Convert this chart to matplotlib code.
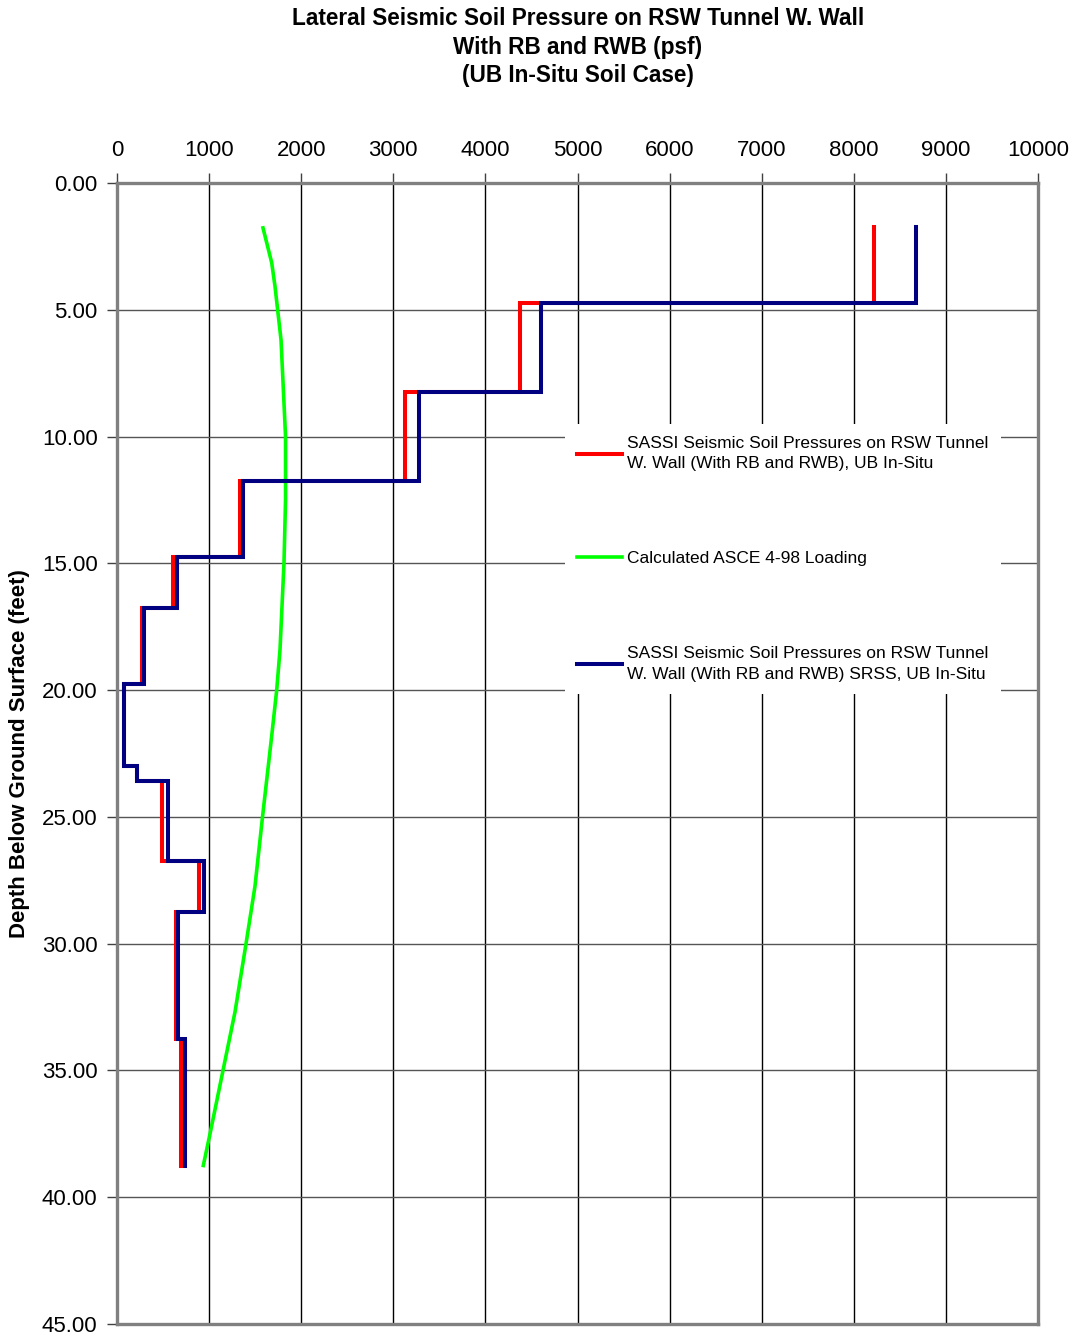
import numpy as np
import matplotlib.pyplot as plt

plt.rcParams['font.family'] = ['Liberation Sans', 'DejaVu Sans']

# layer boundaries (ft) and step values (psf)
depth_edges = [1.75, 4.75, 8.25, 11.75, 14.75, 16.75, 19.75, 23.0, 23.6, 26.75, 28.75, 33.75, 38.75]
sassi_ub = [8220, 4380, 3130, 1335, 610, 275, 75, 215, 485, 890, 640, 700]
sassi_srss = [8680, 4600, 3280, 1370, 650, 290, 80, 215, 550, 950, 660, 740]

# ASCE 4-98 curve
asce_depth = [1.77, 3.15, 4.09, 6.19, 10.0, 12.5, 15.0, 18.4, 20.0, 21.7, 25.0, 27.74, 30.0, 32.7, 35.0, 37.5, 38.75]
asce_psf = [1585, 1680, 1716, 1781, 1830, 1830, 1813, 1770, 1734, 1683, 1580, 1498, 1401, 1281, 1151, 1010, 937]

labels = ['SASSI Seismic Soil Pressures on RSW Tunnel\nW. Wall (With RB and RWB), UB In-Situ',
          'Calculated ASCE 4-98 Loading',
          'SASSI Seismic Soil Pressures on RSW Tunnel\nW. Wall (With RB and RWB) SRSS, UB In-Situ']


def step_xy(edges, vals):
    # vertical segments for each layer joined by horizontal jumps
    y = np.repeat(edges, 2)[1:-1]
    x = np.repeat(vals, 2)
    return x, y


fig = plt.figure(figsize=(10.75, 13.33), dpi=100)
ax = fig.add_axes([117 / 1075, 1 - 1324 / 1333, (1038 - 117) / 1075, (1324 - 183) / 1333])

xr, yr = step_xy(depth_edges, sassi_ub)
xb, yb = step_xy(depth_edges, sassi_srss)
ax.plot(xr, yr, color='#FF0000', lw=2.9, label=labels[0], solid_joinstyle='miter', zorder=3)
ax.plot(asce_psf, asce_depth, color='#00FF00', lw=2.6, label=labels[1], zorder=3)
ax.plot(xb, yb, color='#000080', lw=2.9, label=labels[2], solid_joinstyle='miter', zorder=4)

ax.set_xlim(0, 10000)
ax.set_ylim(45, 0)
ax.set_xticks(np.arange(0, 10001, 1000))
ax.set_yticks(np.arange(0, 46, 5))
ax.set_yticklabels(['%.2f' % v for v in np.arange(0, 46, 5)])
ax.xaxis.tick_top()
ax.tick_params(axis='x', labelsize=16, length=7, width=1, pad=8.5, color='#404040')
ax.tick_params(axis='y', labelsize=16, length=7, width=1, pad=7, color='#404040')

ax.grid(True, axis='x', color='black', lw=1)
ax.grid(True, axis='y', color='#555555', lw=1)
ax.set_axisbelow(True)
for s in ax.spines.values():
    s.set_color('#808080')
    s.set_linewidth(2.4)

leg = ax.legend(loc='upper left', bbox_to_anchor=(0.486, 0.789), borderaxespad=0,
                fontsize=12.5, handlelength=2.6, handletextpad=0.3, labelspacing=4.6,
                frameon=True, fancybox=False, borderpad=0.7)
leg.get_frame().set_facecolor('white')
leg.get_frame().set_edgecolor('none')
leg.get_frame().set_alpha(1)
for t in leg.get_texts():
    t.set_linespacing(1.45)

fig.text(578 / 1075, 1 - 7 / 1333,
         'Lateral Seismic Soil Pressure on RSW Tunnel W. Wall\nWith RB and RWB (psf)\n(UB In-Situ Soil Case)',
         ha='center', va='top', fontsize=16.3, fontweight='bold', linespacing=1.31)
fig.text(20 / 1075, 1 - 754 / 1333, 'Depth Below Ground Surface (feet)',
         rotation=90, ha='center', va='center', fontsize=16, fontweight='bold')

fig.savefig('out.png', dpi=100)
